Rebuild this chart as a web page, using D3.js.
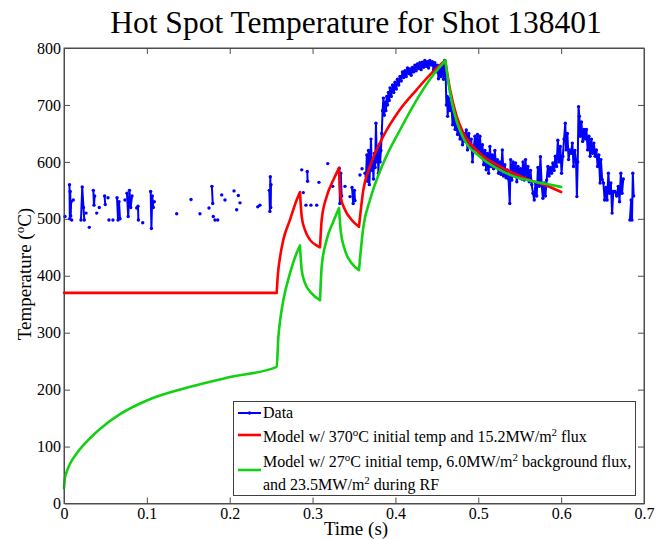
<!DOCTYPE html>
<html><head><meta charset="utf-8">
<script src="https://cdn.jsdelivr.net/npm/d3@7"></script>
<style>
body{margin:0;background:#fff}
text{font-family:"Liberation Serif","Times New Roman",serif;fill:#000}
</style>
</head><body>
<svg id="c" width="667" height="539"></svg>
<script>
// ---------- data ----------
const xTicks = [0, 0.1, 0.2, 0.3, 0.4, 0.5, 0.6, 0.7];
const yTicks = [0, 100, 200, 300, 400, 500, 600, 700, 800];

// Red model: 370 C initial temperature, 15.2 MW/m2 flux
const redModel = [
  [0,370],[0.2567,370],
  [0.2580,400],[0.2607,432],[0.2647,463],[0.2727,498],[0.2808,533],[0.2848,547],
  [0.2869,504],[0.2909,480],[0.2969,463],[0.3050,453],[0.3090,450],
  [0.3110,498],[0.3170,539],[0.3250,568],[0.3319,589],
  [0.3339,539],[0.3391,516],[0.3472,498],[0.3560,486],
  [0.3613,551],[0.3693,592],[0.3854,645],[0.4055,692],[0.4257,727],[0.4457,759],[0.4600,778],
  [0.4659,727],[0.4739,680],[0.4819,651],[0.5020,615],[0.5222,595],[0.5423,580],[0.5624,568],[0.5826,558],[0.6000,547]
];
// Green model: 27 C initial, 6.0 MW/m2 background, 23.5 MW/m2 during RF
const greenModel = [
  [0,27],[0.0010,43],[0.0033,56],[0.0070,69],[0.0153,88],[0.0250,105],[0.0434,131],[0.0676,157],
  [0.1000,181],[0.1500,204],[0.2000,222],[0.2567,240],
  [0.2587,292],[0.2607,320],[0.2647,357],[0.2727,404],[0.2808,440],[0.2848,453],
  [0.2869,410],[0.2909,387],[0.2989,369],[0.3090,357],
  [0.3110,416],[0.3170,463],[0.3250,495],[0.3319,519],
  [0.3339,480],[0.3391,445],[0.3472,422],[0.3560,410],
  [0.3613,486],[0.3693,533],[0.3854,598],[0.4055,656],[0.4257,709],[0.4457,753],[0.4603,778],
  [0.4659,721],[0.4739,671],[0.4819,642],[0.5020,609],[0.5222,589],[0.5423,575],[0.5624,567],[0.5826,561],[0.6000,556]
];

// Measured data before RF: isolated samples / short bursts (time s, temp C)
const dataEarly = [
  [[0.0012,504]],
  [[0.0066,560],[0.0070,500],[0.0075,548],[0.0081,505],[0.0086,530]],
  [[0.0093,498]],
  [[0.0112,533]],
  [[0.0205,498],[0.0220,556],[0.0235,520],[0.0245,498]],
  [[0.0266,510]],
  [[0.0305,485]],
  [[0.0354,550],[0.0362,524],[0.0370,540]],
  [[0.0395,510]],
  [[0.0426,520]],
  [[0.0490,540],[0.0498,525]],
  [[0.0531,537]],
  [[0.0543,498]],
  [[0.0591,498]],
  [[0.0640,537],[0.0652,498],[0.0664,530],[0.0676,500]],
  [[0.0736,533]],
  [[0.0760,545],[0.0775,504],[0.0790,550],[0.0805,520],[0.0821,540]],
  [[0.0877,519]],
  [[0.0893,522],[0.0898,498]],
  [[0.0950,493]],
  [[0.1046,548],[0.1055,483],[0.1065,540],[0.1078,520]],
  [[0.1090,530]],
  [[0.1360,509]],
  [[0.1533,534]],
  [[0.1641,509]],
  [[0.1750,519]],
  [[0.1785,557],[0.1795,527]],
  [[0.1802,504]],
  [[0.1822,498]],
  [[0.1855,498]],
  [[0.1903,542]],
  [[0.1943,533]],
  [[0.2052,549]],
  [[0.2084,516]],
  [[0.2104,541]],
  [[0.2124,528]],
  [[0.2338,521],[0.2365,524]],
  [[0.2478,550],[0.2485,513],[0.2490,574],[0.2495,520],[0.2498,560]],
  [[0.2869,586]],
  [[0.2888,546]],
  [[0.2920,524]],
  [[0.2936,583],[0.2940,566]],
  [[0.2980,524]],
  [[0.3050,524]],
  [[0.3077,564]],
  [[0.3183,597]],
  [[0.3243,557]],
  [[0.3322,589],[0.3330,527],[0.3340,580],[0.3351,540]],
  [[0.3391,557]],
  [[0.3452,539]],
  [[0.3476,555],[0.3490,527],[0.3505,550],[0.3512,532]],
  [[0.3572,577]],
  [[0.3597,588]],
  [[0.3633,580]]
];

// Measured data, continuous part (time s, temp C); null = gap
const dataMain = [
  [0.3645,575],[0.3655,612],[0.3665,566],[0.3675,620],[0.3685,560],[0.3695,598],[0.3705,640],[0.3715,585],
  [0.3725,605],[0.3735,570],[0.3745,615],[0.3755,590],[0.3765,668],[0.3775,600],[0.3785,625],[0.3795,580],
  [0.3805,630],[0.3815,600],[0.3825,620],[0.3835,650],[0.3845,690],[0.3855,712],[0.3865,682],[0.3875,705],
  [0.3885,690],[0.3895,715],[0.3905,700],[0.3915,722],[0.3925,708],[0.3935,730],[0.3950,715],[0.3965,735],
  [0.3980,722],[0.3995,740],[0.4010,728],[0.4025,745],[0.4040,735],[0.4055,750],[0.4070,742],[0.4085,758],
  [0.4100,748],[0.4115,760],[0.4130,750],[0.4145,765],[0.4160,755],[0.4175,763],[0.4190,752],[0.4205,766],
  [0.4220,758],[0.4235,770],[0.4250,760],[0.4265,772],[0.4280,764],[0.4295,774],[0.4310,762],[0.4325,775],
  [0.4340,766],[0.4355,778],[0.4370,768],[0.4385,776],[0.4400,765],[0.4415,778],[0.4430,770],[0.4445,776],
  [0.4460,762],[0.4475,774],[0.4490,758],[0.4505,770],[0.4520,746],[0.4535,765],[0.4550,750],[0.4565,772],
  [0.4580,745],[0.4595,778],[0.4605,760],[0.4615,700],[0.4625,715],[0.4630,680],[0.4645,712],[0.4660,690],
  [0.4675,705],[0.4690,665],[0.4705,690],[0.4720,657],[0.4735,670],[0.4750,648],[0.4765,662],[0.4780,640],
  [0.4795,655],[0.4810,630],[0.4825,650],[0.4840,636],[0.4855,656],[0.4870,621],[0.4885,650],[0.4900,628],
  [0.4915,640],[0.4930,600],[0.4945,625],[0.4960,645],[0.4975,621],[0.4990,648],[0.5005,615],[0.5020,645],
  [0.5035,612],[0.5050,630],[0.5065,595],[0.5080,620],[0.5095,586],[0.5110,615],[0.5125,580],[0.5140,627],
  [0.5155,592],[0.5170,612],[0.5185,588],[0.5200,620],[0.5215,590],[0.5230,604],[0.5245,580],[0.5260,600],
  [0.5275,578],[0.5290,621],[0.5305,575],[0.5320,595],[0.5335,572],[0.5350,586],[0.5365,570],[0.5380,527],
  [0.5390,604],[0.5405,568],[0.5420,600],[0.5435,575],[0.5450,598],[0.5465,565],[0.5480,592],[0.5495,572],
  [0.5510,588],[0.5525,570],[0.5540,600],[0.5555,568],[0.5570,604],[0.5585,570],[0.5600,592],[0.5615,565],
  [0.5630,585],[0.5645,560],[0.5660,545],[0.5675,533],[0.5690,563],[0.5705,540],[0.5720,590],[0.5735,557],
  [0.5750,609],[0.5765,560],[0.5780,536],[0.5795,563],[0.5810,540],[0.5825,568],[0.5840,592],[0.5855,575],
  [0.5870,590],[0.5885,580],[0.5900,598],[0.5915,585],[0.5930,610],[0.5945,592],[0.5960,638],[0.5975,600],
  [0.5990,627],[0.6005,580],[0.6020,610],[0.6035,640],[0.6050,668],[0.6060,621],[0.6075,650],[0.6090,604],
  [0.6105,621],[0.6120,615],[0.6135,633],[0.6150,592],[0.6165,620],[0.6180,600],[0.6190,539],[0.6200,600],
  [0.6210,697],[0.6220,680],[0.6230,645],[0.6245,670],[0.6260,636],[0.6275,657],[0.6290,640],[0.6305,657],
  [0.6320,621],[0.6335,645],[0.6350,610],[0.6365,640],[0.6380,615],[0.6395,633],[0.6410,610],[0.6425,621],
  [0.6440,592],[0.6455,612],[0.6470,563],[0.6480,604],[0.6495,569],[0.6510,563],[0.6525,533],[0.6540,555],
  [0.6555,533],[0.6570,580],[0.6585,545],[0.6600,563],[0.6615,510],[0.6630,548],[0.6650,548],[0.6670,540],
  [0.6690,557],[0.6705,530],[0.6720,580],[0.6735,545],[0.6750,570],
  null,
  [0.6830,498],[0.6845,533],[0.6855,498],[0.6865,580],[0.6875,540]
];

// ---------- drawing ----------
const svg = d3.select('#c');
const m = {l:64, r:644, t:48, b:503.5};
const x = d3.scaleLinear().domain([0,0.7]).range([m.l, m.r]);
const y = d3.scaleLinear().domain([0,800]).range([m.b, m.t]);

const BLUE = '#0000ff', RED = '#ff0000', GREEN = '#12d012';
const AX = '#4d4d4d';
const FONT = '"Liberation Serif","Times New Roman",serif';

// axes with inward ticks (MATLAB box style)
const gx = svg.append('g').attr('transform',`translate(0,${m.b})`)
  .call(d3.axisBottom(x).tickValues(xTicks).tickFormat(d3.format('')).tickSizeInner(-6).tickSizeOuter(0).tickPadding(4));
const gxt = svg.append('g').attr('transform',`translate(0,${m.t})`)
  .call(d3.axisTop(x).tickValues(xTicks).tickSizeInner(-6).tickSizeOuter(0));
const gy = svg.append('g').attr('transform',`translate(${m.l},0)`)
  .call(d3.axisLeft(y).tickValues(yTicks).tickSizeInner(-6).tickSizeOuter(0).tickPadding(3));
const gyr = svg.append('g').attr('transform',`translate(${m.r},0)`)
  .call(d3.axisRight(y).tickValues(yTicks).tickSizeInner(-6).tickSizeOuter(0));
gxt.selectAll('.tick text').remove();
gyr.selectAll('.tick text').remove();
[gx,gxt,gy,gyr].forEach(g=>{
  g.select('.domain').attr('stroke',AX);
  g.selectAll('.tick line').attr('stroke',AX);
  g.selectAll('.tick text').attr('font-family',FONT).attr('font-size',16).attr('fill','#1a1a1a');
});
// end ticks sit on the frame
gx.selectAll('.tick').filter(d=>d===0||d===0.7).select('line').remove();
gxt.selectAll('.tick').filter(d=>d===0||d===0.7).select('line').remove();
gy.selectAll('.tick').filter(d=>d===0||d===800).select('line').remove();
gyr.selectAll('.tick').filter(d=>d===0||d===800).select('line').remove();

// helper: split a model curve at turning points so the cusps stay sharp
function splitSegs(pts){
  const segs=[]; let cur=[pts[0]];
  for(let i=1;i<pts.length;i++){
    cur.push(pts[i]);
    if(i<pts.length-1){
      const d1=Math.sign(pts[i][1]-pts[i-1][1]), d2=Math.sign(pts[i+1][1]-pts[i][1]);
      if(d1!==d2){segs.push(cur); cur=[pts[i]];}
    }
  }
  segs.push(cur); return segs;
}
const smooth = d3.line().x(d=>x(d[0])).y(d=>y(d[1])).curve(d3.curveMonotoneX);
const straight = d3.line().defined(d=>d!==null).x(d=>x(d[0])).y(d=>y(d[1]));

const plot = svg.append('g');

// data: line + point markers
const dataG = plot.append('g');
dataEarly.forEach(seg=>{
  if(seg.length>1) dataG.append('path').attr('d',straight(seg)).attr('fill','none')
    .attr('stroke',BLUE).attr('stroke-width',2).attr('stroke-linejoin','round');
});
dataG.append('path').attr('d',straight(dataMain)).attr('fill','none')
  .attr('stroke',BLUE).attr('stroke-width',2).attr('stroke-linejoin','round');
const allPts = dataEarly.flat().concat(dataMain.filter(d=>d));
dataG.selectAll('circle').data(allPts).join('circle')
  .attr('cx',d=>x(d[0])).attr('cy',d=>y(d[1])).attr('r',1.7).attr('fill',BLUE);

// models
function drawModel(pts,color){
  const d = splitSegs(pts).map(s=>smooth(s)).join('');
  plot.append('path').attr('d',d).attr('fill','none').attr('stroke',color)
    .attr('stroke-width',2.6).attr('stroke-linecap','round').attr('stroke-linejoin','round');
}
drawModel(redModel,RED);
drawModel(greenModel,GREEN);

// frame on top
svg.append('rect').attr('x',m.l).attr('y',m.t).attr('width',m.r-m.l).attr('height',m.b-m.t)
  .attr('fill','none').attr('stroke',AX).attr('stroke-width',1);

// title & labels
svg.append('text').attr('x',(m.l+m.r)/2+2).attr('y',33).attr('text-anchor','middle')
  .attr('font-size',31.5).text('Hot Spot Temperature for Shot 138401');
svg.append('text').attr('x',(m.l+m.r)/2+2).attr('y',535).attr('text-anchor','middle')
  .attr('font-size',19).text('Time (s)');
const yl = svg.append('text').attr('transform',`translate(31,274) rotate(-90)`).attr('text-anchor','middle')
  .attr('font-size',19);
yl.append('tspan').text('Temperature (');
yl.append('tspan').attr('font-size',13).attr('dy',-7).text('o');
yl.append('tspan').attr('dy',7).text('C)');

// legend
const lg = svg.append('g');
lg.append('rect').attr('x',233.5).attr('y',401.5).attr('width',402).attr('height',94)
  .attr('fill','#fff').attr('stroke','#404040').attr('stroke-width',1);
const lx0 = 238, lx1 = 261, tx = 263;
lg.append('line').attr('x1',lx0).attr('x2',lx1).attr('y1',413).attr('y2',413).attr('stroke',BLUE).attr('stroke-width',2);
lg.append('circle').attr('cx',(lx0+lx1)/2).attr('cy',413).attr('r',1.7).attr('fill',BLUE);
lg.append('line').attr('x1',lx0).attr('x2',lx1).attr('y1',435).attr('y2',435).attr('stroke',RED).attr('stroke-width',2.6);
lg.append('line').attr('x1',lx0).attr('x2',lx1).attr('y1',470).attr('y2',470).attr('stroke',GREEN).attr('stroke-width',2.6);

function legText(yb, parts){
  const t = lg.append('text').attr('x',tx).attr('y',yb).attr('font-size',16);
  let pending = 0;
  parts.forEach(p=>{
    if(typeof p==='string'){
      const s = t.append('tspan').text(p);
      if(pending){ s.attr('dy',pending); pending=0; }
    } else {
      t.append('tspan').attr('font-size',11).attr('dy',-6).text(p.sup);
      pending = 6;
    }
  });
}
legText(418, ['Data']);
legText(442, ['Model w/ 370',{sup:'o'},'C initial temp and 15.2MW/m',{sup:'2'},' flux']);
legText(467, ['Model w/ 27',{sup:'o'},'C initial temp, 6.0MW/m',{sup:'2'},' background flux,']);
legText(490, ['and 23.5MW/m',{sup:'2'},' during RF']);
</script>
</body></html>
